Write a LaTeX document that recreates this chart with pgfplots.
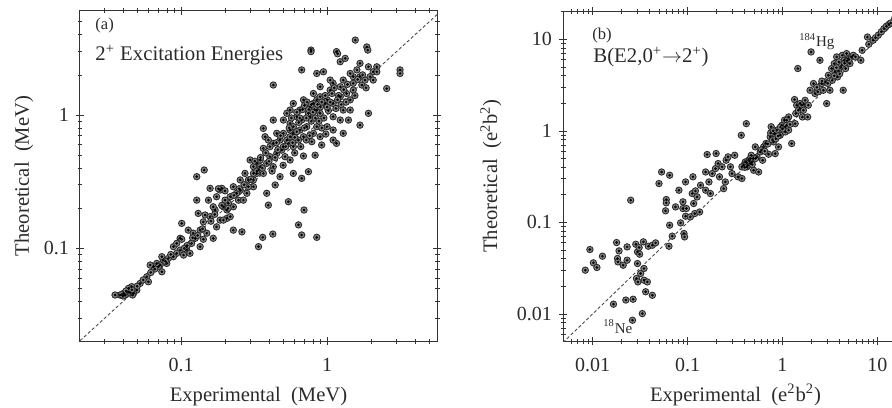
\documentclass[border=0pt]{standalone}
\usepackage{fontspec}
\setmainfont{Liberation Serif}
\usepackage{pgfplots}
\pgfplotsset{compat=1.18}
\usetikzlibrary{plotmarks}
\definecolor{txt}{HTML}{2B2B2B}
\definecolor{mk}{HTML}{858585}
\definecolor{mkd}{HTML}{2E2E2E}

\pgfplotstableread{
x y
1.56 3.65
0.776 3.07
0.776 2.99
1.87 3.24
1.90 3.07
1.16 2.99
1.18 2.88
1.23 2.51
1.68 2.44
1.33 2.66
0.67 2.18
0.85 2.05
0.944 2.11
3.16 2.18
3.16 2.05
2.19 2.30
2.07 2.11
1.92 2.30
2.56 1.58
0.428 1.68
1.92 1.03
1.68 0.84
1.16 0.613
0.918 0.596
0.828 0.50
0.786 0.631
0.689 0.493
0.587 0.365
0.67 0.335
0.745 0.376
0.543 0.224
0.695 0.194
0.637 0.150
0.67 0.126
0.85 0.121
0.339 0.103
0.362 0.121
0.425 0.128
0.261 0.133
0.396 0.211
0.386 0.259
0.441 0.299
0.428 0.917
0.502 0.917
0.366 0.794
0.376 0.688
0.128 0.345
0.144 0.387
0.128 0.230
0.154 0.230
0.131 0.183
0.146 0.178
0.171 0.194
0.175 0.244
0.158 0.282
0.190 0.282
0.228 0.137
0.101 0.154
0.0985 0.119
0.112 0.137
0.109 0.097
0.125 0.119
0.142 0.117
0.166 0.119
0.185 0.163
0.206 0.168
0.211 0.218
0.185 0.274
0.228 0.290
0.254 0.274
0.247 0.230
0.282 0.259
0.313 0.290
0.313 0.326
0.330 0.434
0.348 0.460
0.366 0.562
0.396 0.649
0.428 0.613
0.476 0.650
0.530 0.650
0.489 0.546
0.515 0.487
0.558 0.460
0.476 0.345
0.428 0.410
0.587 0.579
0.587 0.729
0.653 0.772
0.558 0.772
0.726 0.818
0.850 0.818
1.00 0.818
1.10 0.772
1.23 0.917
1.29 1.09
1.44 1.30
1.36 1.45
1.51 1.54
1.73 1.68
1.82 1.83
1.97 1.94
1.68 1.94
1.51 1.94
1.29 1.83
1.10 1.73
1.05 1.54
0.896 1.63
0.806 1.45
0.689 1.30
0.850 1.30
0.969 1.22
1.10 1.22
1.23 1.37
0.653 1.09
0.766 1.15
0.587 1.22
0.620 0.97
0.766 0.97
0.896 1.03
0.558 0.866
0.806 0.729
0.896 0.688
1.10 0.649
1.29 0.729
1.40 0.917
0.502 0.729
0.452 0.729
0.406 0.579
0.348 0.410
0.313 0.410
0.297 0.460
0.366 0.365
0.330 0.365
0.274 0.365
0.289 0.326
0.254 0.326
0.217 0.244
0.200 0.230
0.195 0.205
0.166 0.205
0.158 0.173
0.142 0.158
0.135 0.137
0.121 0.130
0.118 0.109
0.109 0.103
0.0985 0.097
0.0933 0.0918
0.0886 0.0866
0.0818 0.0841
0.0756 0.0818
0.0738 0.0866
0.0681 0.0772
0.0797 0.0772
0.0718 0.075
0.0647 0.0729
0.0614 0.075
0.0738 0.0668
0.0582 0.0613
0.0597 0.0562
0.0524 0.0546
0.0497 0.0487
0.0459 0.0516
0.0436 0.0501
0.0425 0.0473
0.0403 0.046
0.0382 0.0447
0.0353 0.0447
0.0472 0.046
0.0465 0.0447
0.0448 0.0465
0.0414 0.0447
0.101 0.117
0.0886 0.103
0.104 0.0891
0.115 0.0918
0.0933 0.109
0.135 0.103
0.150 0.130
0.175 0.145
0.195 0.163
0.217 0.173
0.206 0.194
0.228 0.205
0.240 0.259
0.267 0.230
0.289 0.290
0.313 0.365
0.339 0.387
0.386 0.434
0.406 0.487
0.452 0.516
0.502 0.579
0.543 0.613
0.637 0.649
0.689 0.688
0.558 0.688
0.587 0.818
0.670 0.917
0.745 1.03
0.850 1.09
0.806 1.22
0.896 1.37
1.00 1.30
1.05 1.83
1.51 1.73
1.23 1.63
1.44 2.05
1.60 2.18
0.558 1.09
0.530 1.03
2.19 2.11
2.07 1.83
1.44 1.09
1.10 0.97
0.60 0.68
0.62 0.75
0.70 0.80
0.72 0.95
0.78 0.90
0.82 1.10
0.90 1.15
0.95 0.95
1.02 1.08
1.15 1.12
1.20 1.40
1.30 1.55
0.64 0.88
0.58 0.62
0.52 0.58
0.46 0.55
0.44 0.48
0.40 0.45
0.36 0.40
0.33 0.38
0.30 0.33
0.27 0.30
0.25 0.28
0.23 0.25
0.21 0.20
0.19 0.21
0.17 0.18
0.16 0.16
0.14 0.14
0.13 0.125
0.12 0.12
0.11 0.105
0.105 0.10
0.085 0.09
0.078 0.08
0.070 0.073
0.066 0.070
0.062 0.066
0.055 0.058
0.050 0.052
0.044 0.047
0.040 0.044
0.042 0.048
0.046 0.049
0.039 0.045
0.18 0.28
0.20 0.27
0.45 0.62
0.48 0.70
0.55 0.80
0.57 0.95
0.62 1.05
0.65 0.95
0.68 1.10
0.70 1.18
0.73 1.25
0.75 1.10
0.78 1.20
0.80 1.05
0.83 0.95
0.86 1.20
0.88 0.90
0.92 1.25
0.97 1.40
1.00 1.15
1.05 1.25
1.08 1.45
1.12 1.60
1.18 1.30
1.25 1.20
1.35 1.25
1.38 1.70
1.55 1.40
1.62 1.85
1.75 2.00
1.85 1.60
0.38 0.52
0.35 0.48
0.32 0.45
0.42 0.38
0.50 0.42
0.60 0.52
0.66 0.58
0.72 0.65
0.76 0.70
0.92 0.80
0.98 0.72
}\tabA

\pgfplotstableread{
x y
0.00838 0.0301
0.00937 0.0506
0.0102 0.0362
0.0111 0.0322
0.0127 0.0428
0.0166 0.0128
0.0179 0.0603
0.0183 0.0404
0.0190 0.0489
0.0185 0.0371
0.0210 0.0341
0.0231 0.0387
0.0224 0.0142
0.0231 0.0541
0.0252 0.175
0.0263 0.00855
0.0267 0.0145
0.0285 0.0578
0.0297 0.0477
0.0309 0.0532
0.0313 0.0450
0.0297 0.0356
0.0290 0.0244
0.0300 0.0224
0.0321 0.0277
0.0334 0.0101
0.0343 0.0614
0.0348 0.0314
0.0348 0.0234
0.0362 0.0175
0.0377 0.0224
0.0386 0.0550
0.0426 0.0564
0.0426 0.0160
0.0461 0.0598
0.0500 0.266
0.0533 0.356
0.0597 0.178
0.0597 0.164
0.0587 0.134
0.0648 0.328
0.0648 0.0933
0.0637 0.0550
0.0690 0.0708
0.0748 0.148
0.0811 0.225
0.0845 0.0989
0.0894 0.142
0.0894 0.168
0.0916 0.0757
0.0931 0.0695
0.0953 0.277
0.0953 0.117
0.0973 0.142
0.107 0.115
0.112 0.207
0.114 0.315
0.116 0.161
0.119 0.125
0.121 0.221
0.126 0.190
0.134 0.130
0.137 0.255
0.155 0.356
0.155 0.225
0.161 0.552
0.168 0.277
0.174 0.207
0.182 0.342
0.197 0.388
0.200 0.566
0.210 0.440
0.217 0.315
0.231 0.405
0.240 0.234
0.250 0.277
0.255 0.478
0.267 0.520
0.283 0.405
0.294 0.342
0.314 0.542
0.340 0.315
0.368 0.897
0.374 0.302
0.390 0.421
0.416 1.20
0.423 0.405
0.440 0.478
0.458 0.440
0.469 0.542
0.497 0.372
0.517 0.669
0.538 0.520
0.560 0.356
0.583 0.590
0.617 0.478
0.632 0.669
0.669 0.728
0.713 0.556
0.743 0.860
0.760 1.11
0.805 0.759
0.824 0.935
0.838 0.565
0.873 1.02
0.908 0.669
0.946 0.897
0.984 1.15
1.05 1.31
1.07 0.975
1.16 1.42
1.25 0.728
1.34 2.20
1.36 1.20
1.38 1.55
1.41 1.91
1.45 4.80
1.53 1.75
1.62 1.42
1.66 1.95
1.73 2.16
1.84 1.42
1.87 1.91
1.95 2.78
2.00 7.29
2.12 3.29
2.20 2.56
2.35 2.67
2.48 5.91
2.59 3.29
2.69 2.78
2.85 3.43
2.92 1.99
3.04 4.05
3.16 2.78
3.29 4.80
3.34 3.57
3.51 5.44
3.57 4.41
3.72 6.43
3.80 3.89
3.93 5.67
4.12 5.00
4.26 6.70
4.36 2.78
4.47 5.91
4.62 4.80
4.73 7.00
4.92 6.17
5.13 5.44
5.34 6.43
5.56 6.70
5.88 6.43
6.69 5.91
6.90 7.60
7.85 10.6
8.11 8.84
9.01 9.78
9.53 10.4
10.2 11.1
11.0 12.1
11.7 13.1
12.4 13.9
13.2 14.6
13.8 15.1
15.2 16.9
17.1 18.3
0.406 0.458
0.431 0.421
0.458 0.499
0.476 0.458
0.497 0.499
0.374 0.405
1.07 1.11
1.11 1.31
1.16 1.02
1.47 1.68
1.53 1.99
1.59 1.91
1.66 1.68
0.42 0.45
0.45 0.47
0.48 0.43
0.40 0.40
0.52 0.50
0.60 0.62
0.65 0.60
0.70 0.72
0.78 0.80
0.85 0.82
0.90 0.88
1.0 1.05
1.1 1.15
1.2 1.18
0.75 0.95
0.8 1.0
0.95 1.1
2.3 3.0
2.6 3.5
3.0 3.3
3.5 4.0
3.9 4.5
4.2 5.2
4.5 5.5
4.8 5.8
5.0 6.0
3.7 4.9
4.0 4.2
}\tabB

\begin{document}
\begin{tikzpicture}
\begin{loglogaxis}[scale only axis, anchor=south west,
  at={(40pt,33pt)}, width=178.5pt, height=165pt,
  axis line style={black!80, line width=0.5pt},
  tick style={black!80, line width=0.4pt},
  tick align=center, major tick length=4pt, minor tick length=2.5pt,
  xtick pos=both, ytick pos=both,
  xticklabel pos=lower, yticklabel pos=left,
  ticklabel style={font=\fontsize{10}{12}\selectfont, text=txt},
  xticklabel style={yshift=-3pt},
  xmin=0.0203, xmax=5.66, ymin=0.0202, ymax=6.03,
  xtick={0.1,1}, xticklabels={0.1,1},
  ytick={0.1,1}, yticklabels={0.1,1},
  minor xtick={0.03,0.04,0.05,0.06,0.07,0.08,0.09,0.2,0.3,0.4,0.5,0.6,0.7,0.8,0.9,2,3,4,5},
  minor ytick={0.03,0.04,0.05,0.06,0.07,0.08,0.09,0.2,0.3,0.4,0.5,0.6,0.7,0.8,0.9,2,3,4,5},
]
\addplot[black!70, line width=0.45pt, dash pattern=on 1.6pt off 1.1pt] coordinates {(0.0203,0.0203) (6.03,6.03)};
\addplot[only marks, mark=*, mark size=1.6pt, draw=mkd, fill=mk, line width=0.45pt] table[x=x,y=y] {\tabA};
\addplot[only marks, mark=*, mark size=0.45pt, draw=none, fill=white, fill opacity=0.75] table[x=x,y=y] {\tabA};
\end{loglogaxis}

\begin{loglogaxis}[scale only axis, anchor=south west,
  at={(281.5pt,33pt)}, width=171.5pt, height=165pt,
  axis line style={black!80, line width=0.5pt},
  tick style={black!80, line width=0.4pt},
  tick align=center, major tick length=4pt, minor tick length=2.5pt,
  xtick pos=both, ytick pos=both,
  xticklabel pos=lower, yticklabel pos=left,
  ticklabel style={font=\fontsize{10}{12}\selectfont, text=txt},
  xticklabel style={yshift=-3pt},
  xmin=0.00488, xmax=20, ymin=0.00507, ymax=20.4,
  xtick={0.01,0.1,1,10}, xticklabels={0.01,0.1,1,10},
  ytick={0.01,0.1,1,10}, yticklabels={0.01,0.1,1,10},
  minor xtick={0.006,0.007,0.008,0.009,0.02,0.03,0.04,0.05,0.06,0.07,0.08,0.09,0.2,0.3,0.4,0.5,0.6,0.7,0.8,0.9,2,3,4,5,6,7,8,9},
  minor ytick={0.006,0.007,0.008,0.009,0.02,0.03,0.04,0.05,0.06,0.07,0.08,0.09,0.2,0.3,0.4,0.5,0.6,0.7,0.8,0.9,2,3,4,5,6,7,8,9,20},
]
\addplot[black!70, line width=0.45pt, dash pattern=on 1.6pt off 1.1pt] coordinates {(0.00488,0.00488) (20.4,20.4)};
\addplot[only marks, mark=*, mark size=1.6pt, draw=mkd, fill=mk, line width=0.45pt] table[x=x,y=y] {\tabB};
\addplot[only marks, mark=*, mark size=0.45pt, draw=none, fill=white, fill opacity=0.75] table[x=x,y=y] {\tabB};
\end{loglogaxis}

\tikzset{lab/.style={inner sep=0pt, text=txt}}
\node[lab, rotate=90, font=\fontsize{10.3}{12}\selectfont] at (12pt,115.5pt) {Theoretical\hspace{0.5em}(MeV)};
\node[lab, anchor=base, font=\fontsize{10.3}{12}\selectfont] at (129.25pt,3pt) {Experimental\hspace{0.5em}(MeV)};
\node[lab, anchor=base west, font=\fontsize{8.3}{10}\selectfont] at (47.5pt,188.5pt) {(a)};
\node[lab, anchor=base west, font=\fontsize{10.4}{12}\selectfont] at (47.5pt,173pt) {2\textsuperscript{+} Excitation Energies};
\node[lab, rotate=90, font=\fontsize{10.3}{12}\selectfont] at (245.5pt,115.5pt) {Theoretical\hspace{0.5em}(e\textsuperscript{2}b\textsuperscript{2})};
\node[lab, anchor=base, font=\fontsize{10.3}{12}\selectfont] at (367.75pt,3pt) {Experimental\hspace{0.5em}(e\textsuperscript{2}b\textsuperscript{2})};
\node[lab, anchor=base west, font=\fontsize{8.3}{10}\selectfont] at (296pt,183.5pt) {(b)};
\node[lab, anchor=base west, font=\fontsize{10.4}{12}\selectfont] at (296.5pt,172pt) {B(E2,0\textsuperscript{+}$\rightarrow$2\textsuperscript{+})};
\node[lab, anchor=base west, font=\fontsize{7.5}{9}\selectfont] at (399.5pt,180pt) {\textsuperscript{184}Hg};
\node[lab, anchor=base west, font=\fontsize{7.5}{9}\selectfont] at (301.5pt,37pt) {\textsuperscript{18}Ne};

\pgfresetboundingbox
\useasboundingbox (0,0) rectangle (446pt,203.5pt);
\end{tikzpicture}
\end{document}
